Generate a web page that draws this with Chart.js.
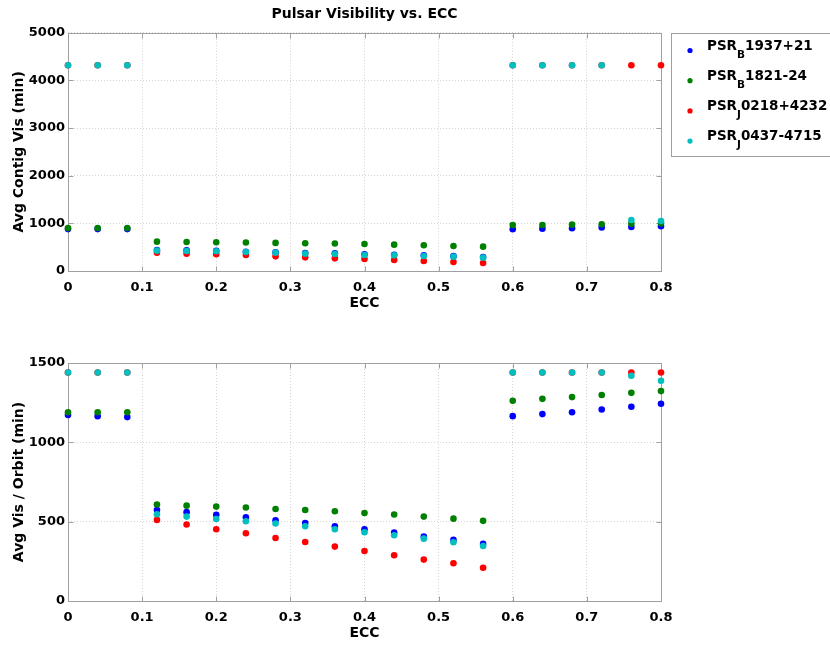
<!DOCTYPE html>
<html>
<head>
<meta charset="utf-8">
<script src="https://cdn.jsdelivr.net/npm/chart.js@4/dist/chart.umd.min.js"></script>
<style>
  html, body { margin: 0; padding: 0; background: #fff; }
  #wrap { position: relative; width: 830px; height: 645px; }
  canvas { position: absolute; left: 0; display: block; }
</style>
</head>
<body>
<div id="wrap">
  <canvas id="topChart" width="830" height="322" style="top:0"></canvas>
  <canvas id="bottomChart" width="830" height="323" style="top:322px"></canvas>
</div>
<script>
// eccentricity samples
const ecc = [0, 0.04, 0.08, 0.12, 0.16, 0.2, 0.24, 0.28, 0.32, 0.36, 0.4,
             0.44, 0.48, 0.52, 0.56, 0.6, 0.64, 0.68, 0.72, 0.76, 0.8];

const pulsarNames = ['PSR_B1937+21', 'PSR_B1821-24', 'PSR_J0218+4232', 'PSR_J0437-4715'];
const pulsarColors = ['#0000ff', '#008000', '#ff0000', '#00bfbf'];

// Avg Contig Vis (min)
const contigB1937 = [880, 880, 880, 440, 435, 425, 405, 390, 378, 370, 350, 340, 328, 312, 295, 876, 889, 897, 915, 924, 938];
const contigB1821 = [900, 900, 900, 616, 609, 603, 597, 590, 583, 576, 567, 553, 540, 525, 511, 966, 966, 973, 980, 994, 1000];
const contigJ0218 = [4320, 4320, 4320, 385, 363, 351, 336, 308, 287, 266, 252, 231, 210, 189, 168, 4320, 4320, 4320, 4320, 4320, 4320];
const contigJ0437 = [4320, 4320, 4320, 427, 420, 414, 400, 385, 364, 357, 336, 330, 315, 301, 280, 4320, 4320, 4320, 4320, 1071, 1050];

// Avg Vis / Orbit (min)
const orbitB1937 = [1172, 1165, 1159, 574, 560, 543, 528, 509, 492, 471, 452, 431, 406, 385, 360, 1165, 1178, 1190, 1207, 1224, 1243];
const orbitB1821 = [1190, 1190, 1190, 608, 601, 595, 589, 580, 574, 566, 555, 545, 532, 519, 505, 1262, 1274, 1285, 1298, 1312, 1323];
const orbitJ0218 = [1440, 1440, 1440, 511, 482, 452, 427, 397, 372, 343, 315, 288, 261, 238, 210, 1440, 1440, 1440, 1440, 1440, 1440];
const orbitJ0437 = [1440, 1440, 1440, 547, 532, 517, 503, 488, 471, 452, 433, 414, 393, 370, 347, 1440, 1440, 1440, 1440, 1420, 1388];

const FONT = '"DejaVu Sans", sans-serif';
const GRID = '#d4d4d4';
const FRAME = '#a0a0a0';

function makeDatasets(series) {
    return series.map((vals, i) => ({
        label: pulsarNames[i],
        data: vals.map((v, k) => ({ x: ecc[k], y: v })),
        backgroundColor: pulsarColors[i],
        borderWidth: 0,
        pointRadius: 3.3,
        clip: false,
        order: series.length - i   // last series drawn on top
    }));
}

// box around plot area + inward tick marks
const framePlugin = {
    id: 'frame',
    beforeDatasetsDraw(chart) {
        const { ctx, chartArea: a, scales } = chart;
        const l = Math.round(a.left) + 0.5, r = Math.round(a.right) + 0.5;
        const t = Math.round(a.top) + 0.5, b = Math.round(a.bottom) + 0.5;
        ctx.save();
        ctx.strokeStyle = FRAME;
        ctx.lineWidth = 1;
        ctx.strokeRect(l, t, r - l, b - t);
        ctx.beginPath();
        scales.x.ticks.forEach(tk => {
            const px = Math.round(scales.x.getPixelForValue(tk.value)) + 0.5;
            ctx.moveTo(px, b); ctx.lineTo(px, b - 5);
            ctx.moveTo(px, t); ctx.lineTo(px, t + 5);
        });
        scales.y.ticks.forEach(tk => {
            const py = Math.round(scales.y.getPixelForValue(tk.value)) + 0.5;
            ctx.moveTo(l, py); ctx.lineTo(l + 5, py);
            ctx.moveTo(r, py); ctx.lineTo(r - 5, py);
        });
        ctx.stroke();
        ctx.restore();
    }
};

// legend with subscripts (PSR_B1937+21 -> PSR, sub B, 1937+21)
const subLegendPlugin = {
    id: 'subLegend',
    afterDraw(chart) {
        const ctx = chart.ctx;
        ctx.save();
        ctx.strokeStyle = FRAME;
        ctx.lineWidth = 1;
        ctx.strokeRect(671.5, 33.5, 200, 123);
        ctx.textBaseline = 'alphabetic';
        ctx.textAlign = 'left';
        pulsarNames.forEach((name, i) => {
            const m = name.match(/^([^_]+)_(\w)(.*)$/);
            const y = 49.5 + i * 30.2;
            ctx.fillStyle = pulsarColors[i];
            ctx.beginPath();
            ctx.arc(690, y + 1, 2.6, 0, Math.PI * 2);
            ctx.fill();
            ctx.fillStyle = '#000';
            let x = 707;
            ctx.font = 'bold 13.5px ' + FONT;
            ctx.fillText(m[1], x, y);
            x += ctx.measureText(m[1]).width;
            ctx.font = 'bold 10.5px ' + FONT;
            ctx.fillText(m[2], x, y + 8);
            x += ctx.measureText(m[2]).width;
            ctx.font = 'bold 13.5px ' + FONT;
            ctx.fillText(m[3], x, y);
        });
        ctx.restore();
    }
};

function makeOptions(cfg) {
    return {
        responsive: false,
        animation: false,
        layout: { padding: { left: 0, right: 169, top: cfg.padTop, bottom: 0 } },
        plugins: {
            legend: { display: false },
            tooltip: { enabled: false },
            title: cfg.title ? {
                display: true,
                text: cfg.title,
                fullSize: false,
                color: '#000',
                font: { family: FONT, size: 14, weight: 'bold' },
                padding: { top: 6, bottom: 10 }
            } : { display: false }
        },
        scales: {
            x: {
                type: 'linear',
                min: 0, max: 0.8,
                ticks: {
                    stepSize: 0.1,
                    padding: 9,
                    color: '#000',
                    font: { family: FONT, size: 13, weight: 'bold' },
                    callback: v => String(Math.round(v * 10) / 10)
                },
                grid: { color: GRID, drawTicks: false },
                border: { display: false, dash: [1, 2] },
                title: {
                    display: true, text: 'ECC', color: '#000',
                    font: { family: FONT, size: 14, weight: 'bold' },
                    padding: { top: 0, bottom: cfg.xTitlePad }
                },
                afterFit: s => { s.height = cfg.xHeight; }
            },
            y: {
                min: 0, max: cfg.yMax,
                ticks: {
                    stepSize: cfg.yStep,
                    padding: 3,
                    color: '#000',
                    font: { family: FONT, size: 13, weight: 'bold' },
                    callback: v => String(v)
                },
                grid: { color: GRID, drawTicks: false },
                border: { display: false, dash: [1, 2] },
                title: {
                    display: true, text: cfg.yTitle, color: '#000',
                    font: { family: FONT, size: 14, weight: 'bold' },
                    padding: { top: 11, bottom: 0 }
                },
                afterFit: s => { s.width = 68; }
            }
        }
    };
}

new Chart(document.getElementById('topChart'), {
    type: 'scatter',
    data: { datasets: makeDatasets([contigB1937, contigB1821, contigJ0218, contigJ0437]) },
    options: makeOptions({
        title: 'Pulsar Visibility vs. ECC', padTop: 0, xHeight: 51, xTitlePad: 10,
        yMax: 5000, yStep: 1000, yTitle: 'Avg Contig Vis (min)'
    }),
    plugins: [framePlugin, subLegendPlugin]
});

new Chart(document.getElementById('bottomChart'), {
    type: 'scatter',
    data: { datasets: makeDatasets([orbitB1937, orbitB1821, orbitJ0218, orbitJ0437]) },
    options: makeOptions({
        title: null, padTop: 41, xHeight: 44, xTitlePad: 3,
        yMax: 1500, yStep: 500, yTitle: 'Avg Vis / Orbit (min)'
    }),
    plugins: [framePlugin]
});
</script>
</body>
</html>
